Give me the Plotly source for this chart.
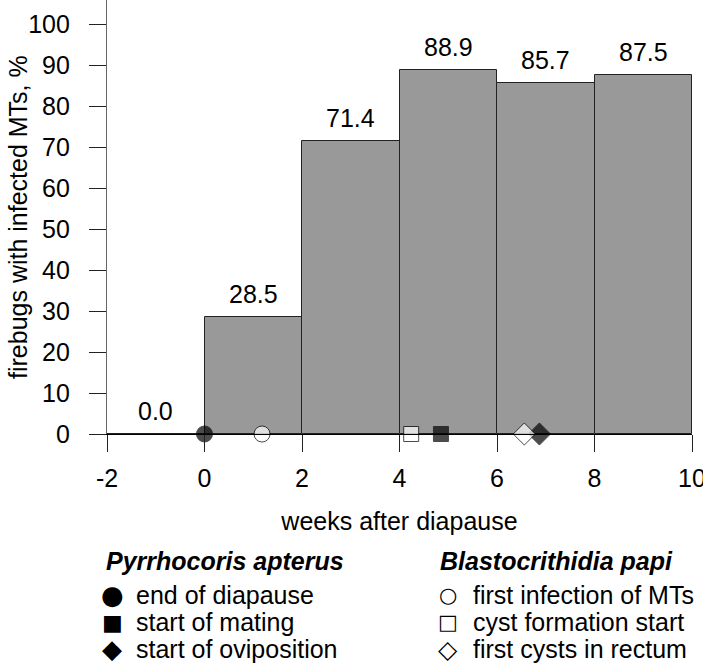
import plotly.graph_objects as go

# infection of Malpighian tubules per 2-week interval
week_start = [-2, 0, 2, 4, 6, 8]
infected_pct = [0.0, 28.5, 71.4, 88.9, 85.7, 87.5]
bar_labels = ["0.0", "28.5", "71.4", "88.9", "85.7", "87.5"]
x_ticks = [-2, 0, 2, 4, 6, 8, 10]
x_ticktext = ["-2", "0", "2", "4", "6", "8", "10"]

# life-cycle events (weeks after diapause)
host_events = ["end of diapause", "start of mating", "start of oviposition"]
host_weeks = [0.0, 4.85, 6.87]
parasite_events = ["first infection of MTs", "cyst formation start", "first cysts in rectum"]
parasite_weeks = [1.18, 4.24, 6.56]
event_symbols = ["circle", "square", "diamond"]
filled_glyphs = ["\u25cf", "\u25a0", "\u25c6"]
open_glyphs = ["\u25cb", "\u25a1", "\u25c7"]

FONT = "Liberation Sans, Arial, sans-serif"
PLOT_LEFT, PLOT_BOTTOM = 107, 434

centers = [w + 1 for w in week_start]

fig = go.Figure()
fig.add_trace(go.Bar(
    x=centers, y=infected_pct, width=2,
    marker={"color": "#999999", "line": {"color": "#222222", "width": 1}},
    showlegend=False, hoverinfo="skip",
))
fig.add_trace(go.Scatter(
    x=host_weeks, y=[0] * 3, mode="markers", cliponaxis=False,
    marker={"symbol": event_symbols, "size": [16, 15, 17], "color": "black",
            "line": {"color": "black", "width": 1}},
    showlegend=False,
))
fig.add_trace(go.Scatter(
    x=parasite_weeks, y=[0] * 3, mode="markers", cliponaxis=False,
    marker={"symbol": event_symbols, "size": [16, 15, 17], "color": "white",
            "line": {"color": "black", "width": 1}},
    showlegend=False,
))

for xc, val, lab in zip(centers, infected_pct, bar_labels):
    fig.add_annotation(x=xc, y=val, text=lab, showarrow=False, yanchor="middle",
                       yshift=23, font={"size": 25, "color": "black"})


def legend_text(px, py, text, size=25, family=FONT, anchor="left"):
    # px, py: pixel position in the page
    fig.add_annotation(xref="paper", yref="paper", x=0, y=0, xanchor=anchor,
                       yanchor="middle", xshift=px - PLOT_LEFT, yshift=PLOT_BOTTOM - py,
                       text=text, showarrow=False,
                       font={"size": size, "color": "black", "family": family})


filled_sizes = [26, 22, 26]
open_sizes = [21, 21, 25]
legend_text(104, 561, "<b><i>Pyrrhocoris apterus</i></b>")
legend_text(438, 561, "<b><i>Blastocrithidia papi</i></b>")
for i in range(3):
    py = 595 + 27 * i
    legend_text(112, py, filled_glyphs[i], size=filled_sizes[i], family="DejaVu Sans", anchor="center")
    legend_text(134, py, host_events[i])
    legend_text(448, py, open_glyphs[i], size=open_sizes[i], family="DejaVu Sans", anchor="center")
    legend_text(471, py, parasite_events[i])

# y-axis title
fig.add_annotation(xref="paper", yref="paper", x=0, y=0.5, xshift=18 - PLOT_LEFT,
                   xanchor="center", yanchor="middle", textangle=-90, showarrow=False,
                   text="firebugs with infected MTs, %", font={"size": 25, "color": "black"})

fig.update_layout(
    width=703, height=668,
    margin={"l": PLOT_LEFT, "r": 11, "t": 0, "b": 668 - PLOT_BOTTOM},
    paper_bgcolor="white", plot_bgcolor="white",
    font={"family": FONT, "size": 25, "color": "black"},
    bargap=0, showlegend=False,
)
fig.update_xaxes(
    range=[-2, 10], tickvals=x_ticks, ticktext=x_ticktext, showgrid=False, zeroline=False,
    showline=True, linecolor="black", linewidth=1.2, automargin=False,
    ticks="outside", ticklen=17, tickcolor="#222222", tickwidth=1,
    tickfont={"size": 25}, ticklabelstandoff=5, ticklabeloverflow="allow",
    title={"text": "weeks after diapause", "font": {"size": 25}, "standoff": 21},
)
fig.update_yaxes(
    range=[0, 105.9], tickvals=list(range(0, 101, 10)),
    showgrid=False, zeroline=False,
    showline=True, linecolor="#666666", linewidth=1.2, automargin=False,
    ticks="outside", ticklen=17, tickcolor="#222222", tickwidth=1,
    tickfont={"size": 25}, ticklabelstandoff=14, ticklabeloverflow="allow",
)

# drop the default 8px page margin so the figure fills the window exactly
fig.write_html("out.html", config={"displayModeBar": False},
               post_script="document.body.style.margin = '0';")
